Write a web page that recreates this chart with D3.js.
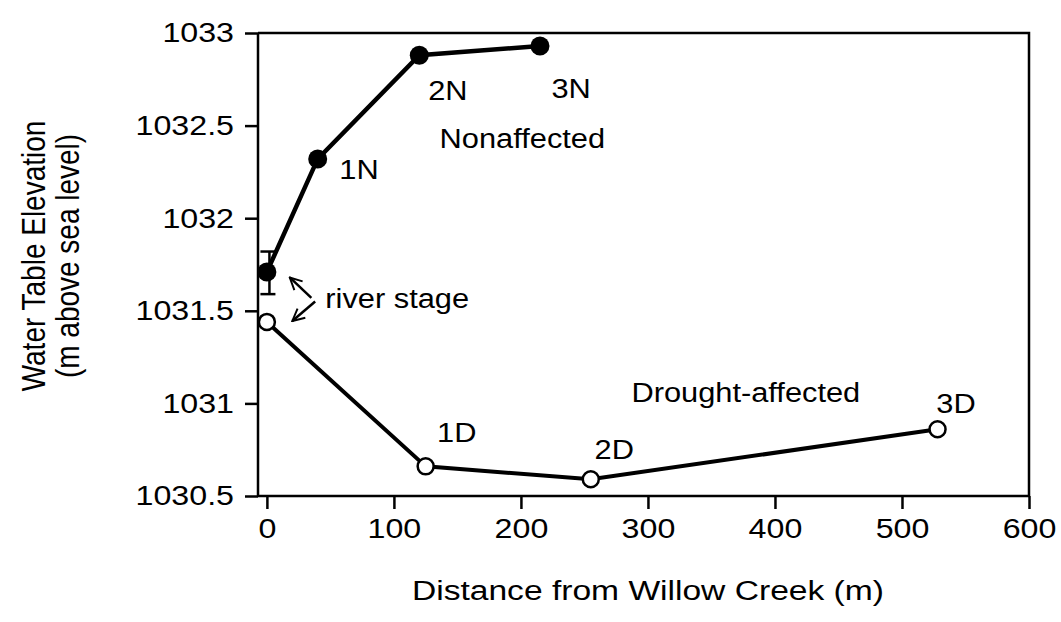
<!DOCTYPE html>
<html>
<head>
<meta charset="utf-8">
<script src="https://cdn.jsdelivr.net/npm/d3@7"></script>
<style>
	body { margin: 0; background: #fff; }
	svg { display: block; font-family: "Liberation Sans", Arial, Helvetica, sans-serif; }
	.axis path, .axis line { stroke: #000; stroke-width: 2.5; }
	.axis text { font-size: 28px; fill: #000; transform-box: fill-box; }
	.axis--x text { transform-origin: center; transform: scaleX(1.15); }
	.axis--y text { transform-origin: right center; transform: scaleX(1.15); }
	.lbl { font-size: 28px; fill: #000; transform-box: fill-box; transform-origin: left center; transform: scaleX(1.1); }
	.lbl.mid { transform-origin: center; transform: scaleX(1.2); }
</style>
</head>
<body>
<svg width="1061" height="622"></svg>
<script>
// afstand (m) en grondwaterstand (m boven zeeniveau)
const nonDist = [0, 40, 120, 215];
const nonElev = [1031.71, 1032.32, 1032.88, 1032.93];
const drDist = [0, 125, 255, 528];
const drElev = [1031.44, 1030.66, 1030.59, 1030.86];

const riverStage = { x: 2, lo: 1031.59, hi: 1031.82 };

const xTicks = [0, 100, 200, 300, 400, 500, 600];
const yTicks = [1030.5, 1031, 1031.5, 1032, 1032.5, 1033];

// tekstlabels [tekst, x, y] in data-eenheden
const labels = [
	["1N", 57, 1032.21],
	["2N", 127, 1032.64],
	["3N", 224, 1032.65],
	["Nonaffected", 136, 1032.38],
	["1D", 134, 1030.79],
	["2D", 258, 1030.70],
	["3D", 527, 1030.95],
	["Drought-affected", 287, 1031.01],
	["river stage", 46, 1031.515]
];

// pijlen [x1, y1, x2, y2] (staart -> kop)
const arrows = [
	[35, 1031.57, 18, 1031.68],
	[38, 1031.55, 20, 1031.445]
];

const svg = d3.select("svg");
const margin = { top: 33, right: 32, bottom: 126, left: 258 };
const width = 1061 - margin.left - margin.right;
const height = 622 - margin.top - margin.bottom;

const x = d3.scaleLinear([-7, 600], [0, width]);
const y = d3.scaleLinear([1030.5, 1033], [height, 0]);

svg.append("defs").append("marker")
	.attr("id", "pijl")
	.attr("viewBox", "0 0 10 10")
	.attr("refX", 9).attr("refY", 5)
	.attr("markerWidth", 6).attr("markerHeight", 6)
	.attr("markerUnits", "strokeWidth")
	.attr("orient", "auto")
	.append("path")
	.attr("d", "M1,1 L9,5 L1,9")
	.attr("fill", "none")
	.attr("stroke", "#000")
	.attr("stroke-width", 1.3);

const g = svg.append("g")
	.attr("transform", `translate(${margin.left},${margin.top})`);

// frame boven en rechts
g.append("path")
	.attr("d", `M0,0 H${width} V${height}`)
	.attr("fill", "none")
	.attr("stroke", "#000")
	.attr("stroke-width", 2.5);

const xAxis = d3.axisBottom(x).tickValues(xTicks).tickSize(13).tickPadding(9).tickSizeOuter(0);
const yAxis = d3.axisLeft(y).tickValues(yTicks).tickSize(13).tickPadding(11).tickSizeOuter(0)
	.tickFormat(d => d3.format("")(d));

g.append("g")
	.attr("class", "axis axis--x")
	.attr("transform", `translate(0,${height})`)
	.call(xAxis)
	.call(a => a.select(".domain").attr("d", `M0,0H${width}`));

g.append("g")
	.attr("class", "axis axis--y")
	.call(yAxis)
	.call(a => a.select(".domain").attr("d", `M0,0V${height}`));

// river stage foutbalk
const eb = g.append("g").attr("stroke", "#000").attr("stroke-width", 2.5);
eb.append("line")
	.attr("x1", x(riverStage.x)).attr("x2", x(riverStage.x))
	.attr("y1", y(riverStage.hi)).attr("y2", y(riverStage.lo));
[riverStage.hi, riverStage.lo].forEach(v => {
	eb.append("line")
		.attr("x1", x(riverStage.x) - 9).attr("x2", x(riverStage.x) + 6)
		.attr("y1", y(v)).attr("y2", y(v));
});

const line = d3.line().x(d => x(d[0])).y(d => y(d[1]));
const nonData = d3.zip(nonDist, nonElev);
const drData = d3.zip(drDist, drElev);

g.append("path")
	.attr("d", line(nonData))
	.attr("fill", "none")
	.attr("stroke", "#000")
	.attr("stroke-width", 4.5);

g.append("path")
	.attr("d", line(drData))
	.attr("fill", "none")
	.attr("stroke", "#000")
	.attr("stroke-width", 4);

g.append("g")
	.selectAll("circle")
	.data(nonData)
	.join("circle")
	.attr("cx", d => x(d[0]))
	.attr("cy", d => y(d[1]))
	.attr("r", 9.5)
	.attr("fill", "#000");

g.append("g")
	.selectAll("circle")
	.data(drData)
	.join("circle")
	.attr("cx", d => x(d[0]))
	.attr("cy", d => y(d[1]))
	.attr("r", 8)
	.attr("fill", "#fff")
	.attr("stroke", "#000")
	.attr("stroke-width", 2.5);

g.append("g")
	.selectAll("line")
	.data(arrows)
	.join("line")
	.attr("x1", d => x(d[0])).attr("y1", d => y(d[1]))
	.attr("x2", d => x(d[2])).attr("y2", d => y(d[3]))
	.attr("stroke", "#000")
	.attr("stroke-width", 2.5)
	.attr("marker-end", "url(#pijl)");

g.append("g")
	.selectAll("text")
	.data(labels)
	.join("text")
	.attr("class", "lbl")
	.attr("x", d => x(d[1]))
	.attr("y", d => y(d[2]))
	.text(d => d[0]);

svg.append("text")
	.attr("class", "lbl mid")
	.attr("text-anchor", "middle")
	.attr("x", margin.left + x(300))
	.attr("y", 600)
	.text("Distance from Willow Creek (m)");

const yTitle = svg.append("text")
	.attr("text-anchor", "middle")
	.attr("font-size", 28)
	.attr("transform", "translate(45,256) rotate(-90) scale(1,1.2)");
yTitle.append("tspan").attr("x", 0).attr("dy", 0).text("Water Table Elevation");
yTitle.append("tspan").attr("x", 0).attr("dy", 28).text("(m above sea level)");
</script>
</body>
</html>
